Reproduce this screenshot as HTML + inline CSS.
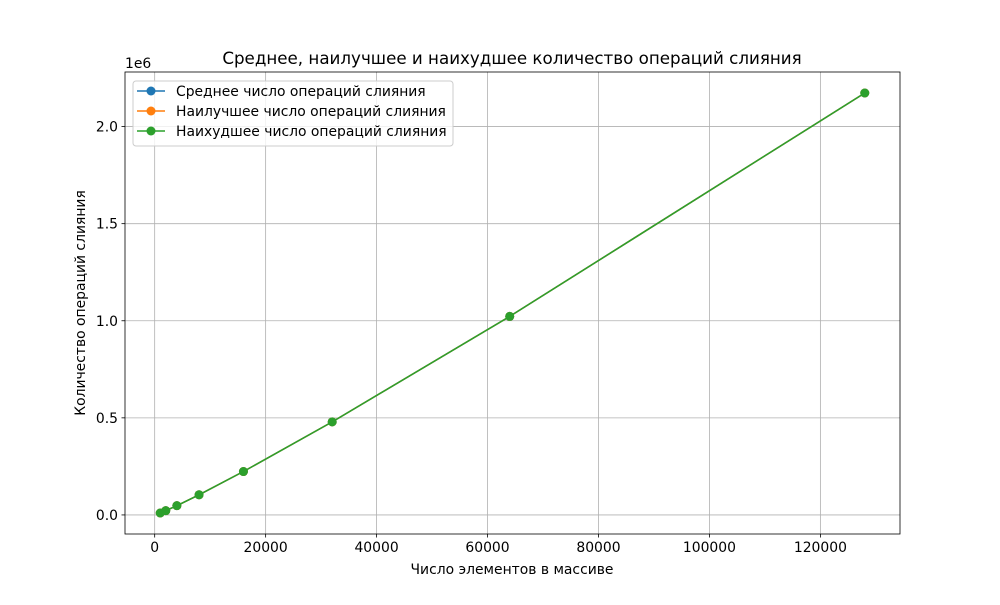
<!DOCTYPE html>
<html><head><meta charset="utf-8"><style>
body{margin:0;background:#fff;}
svg text{font-family:"DejaVu Sans","Liberation Sans",sans-serif;}
</style></head><body>
<svg id="chart" width="1000" height="600" xmlns="http://www.w3.org/2000/svg">
<rect width="1000" height="600" fill="#fff"/>
<g id="grid"></g>
<g id="series"></g>
<rect x="125" y="72" width="775" height="462" fill="none" stroke="#000" stroke-width="0.8"/>
<g id="axes"></g>
<text x="512" y="64" font-size="16.7" text-anchor="middle">Среднее, наилучшее и наихудшее количество операций слияния</text>
<text x="512" y="574" font-size="13.9" text-anchor="middle">Число элементов в массиве</text>
<text x="0" y="0" font-size="13.9" text-anchor="middle" transform="translate(85,303) rotate(-90)">Количество операций слияния</text>
<text x="125" y="68" font-size="13.9">1e6</text>
<g>
<rect x="133" y="81" width="320" height="65" rx="3" fill="#fff" fill-opacity="0.8" stroke="#ccc"/>
<g><line x1="137" y1="91" x2="165" y2="91" stroke="#1f77b4" stroke-width="1.5"/><circle cx="151" cy="91" r="4.5" fill="#1f77b4"/><text x="176" y="96" font-size="13.9">Среднее число операций слияния</text></g>
<g><line x1="137" y1="111" x2="165" y2="111" stroke="#ff7f0e" stroke-width="1.5"/><circle cx="151" cy="111" r="4.5" fill="#ff7f0e"/><text x="176" y="116" font-size="13.9">Наилучшее число операций слияния</text></g>
<g><line x1="137" y1="131" x2="165" y2="131" stroke="#2ca02c" stroke-width="1.5"/><circle cx="151" cy="131" r="4.5" fill="#2ca02c"/><text x="176" y="136" font-size="13.9">Наихудшее число операций слияния</text></g>
</g>
</svg>
<script>
const sizes = [1000, 2000, 4000, 8000, 16000, 32000, 64000, 128000];
const avgOps = [9976, 21952, 47904, 103808, 223616, 479232, 1022464, 2172928];
const bestOps = [9976, 21952, 47904, 103808, 223616, 479232, 1022464, 2172928];
const worstOps = [9976, 21952, 47904, 103808, 223616, 479232, 1022464, 2172928];
const xTicks = [0, 20000, 40000, 60000, 80000, 100000, 120000];
const yTicks = [0, 0.5e6, 1.0e6, 1.5e6, 2.0e6];
const yTickLabels = ["0.0", "0.5", "1.0", "1.5", "2.0"];

const NS = "http://www.w3.org/2000/svg";
const L = 125, R = 900, T = 72, B = 534;
const all = avgOps.concat(bestOps, worstOps);
const xmin0 = Math.min(...sizes), xmax0 = Math.max(...sizes);
const ymin0 = Math.min(...all), ymax0 = Math.max(...all);
const xm = (xmax0 - xmin0) * 0.05, ym = (ymax0 - ymin0) * 0.05;
const xMin = xmin0 - xm, xMax = xmax0 + xm, yMin = ymin0 - ym, yMax = ymax0 + ym;
const sx = v => L + (v - xMin) / (xMax - xMin) * (R - L);
const sy = v => B - (v - yMin) / (yMax - yMin) * (B - T);
function mk(tag, attrs, parent) {
  const e = document.createElementNS(NS, tag);
  for (const k in attrs) e.setAttribute(k, attrs[k]);
  parent.appendChild(e);
  return e;
}
const grid = document.getElementById('grid'), axes = document.getElementById('axes'), series = document.getElementById('series');
xTicks.forEach(t => {
  const x = sx(t);
  const g = mk('line', {x1: x, x2: x, y1: T, y2: B, stroke: '#b0b0b0', 'stroke-width': 0.8}, grid);
  
  
  mk('line', {x1: x, x2: x, y1: B, y2: B + 3.5, stroke: '#000', 'stroke-width': 0.8}, axes);
  const tx = mk('text', {x: x, y: B + 18, 'font-size': 13.9, 'text-anchor': 'middle'}, axes);
  
  
  tx.textContent = String(t);
});
yTicks.forEach((t, i) => {
  const y = sy(t);
  const g = mk('line', {x1: L, x2: R, y1: y, y2: y, stroke: '#b0b0b0', 'stroke-width': 0.8}, grid);
  
  
  mk('line', {x1: L - 3.5, x2: L, y1: y, y2: y, stroke: '#000', 'stroke-width': 0.8}, axes);
  const tx = mk('text', {x: L - 7, y: y + 5, 'font-size': 13.9, 'text-anchor': 'end'}, axes);
  
  
  tx.textContent = yTickLabels[i];
});
[[avgOps, '#1f77b4', 'average'], [bestOps, '#ff7f0e', 'best'], [worstOps, '#2ca02c', 'worst']].forEach(([vals, c, nm]) => {
  const g = mk('g', {}, series);
  
  
  const pl = mk('polyline', {points: sizes.map((s, i) => sx(s) + ',' + sy(vals[i])).join(' '), fill: 'none', stroke: c, 'stroke-width': 1.5}, g);
  
  
  sizes.forEach((s, i) => {
    const p = mk('circle', {cx: sx(s), cy: sy(vals[i]), r: 4.5, fill: c}, g);
    
    
  });
});
</script>
</body></html>
